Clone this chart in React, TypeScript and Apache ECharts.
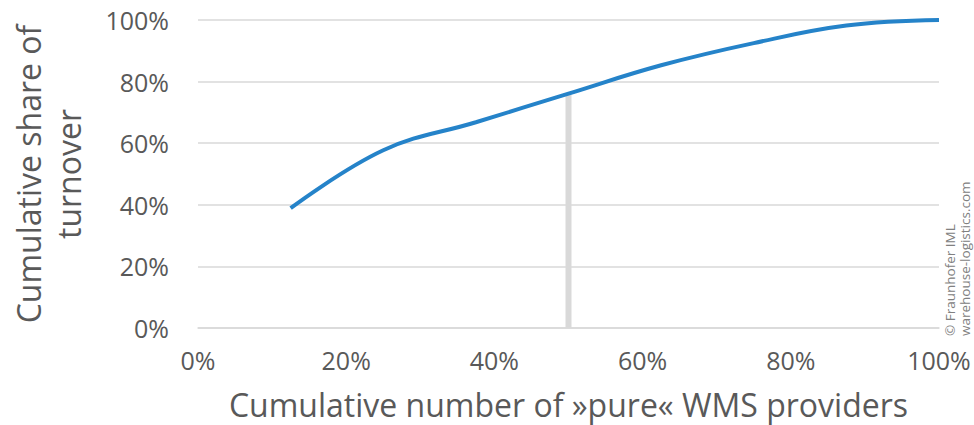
import React, { useEffect, useRef } from "react";
import * as echarts from "echarts";

const providerShare = [12.5, 25, 37.5, 50, 62.5, 75, 87.5, 100];
const turnoverShare = [38.9, 57.7, 66.8, 76.1, 85.3, 92.5, 98.2, 100];
const markerX = 50;
const markerTop = 76.1;
const xTitle = "Cumulative number of »pure« WMS providers";
const yTitle = "Cumulative share of\nturnover";
const credits = ["© Fraunhofer IML", "warehouse-logistics.com"];

const FONT = "'Open Sans', 'Noto Sans', sans-serif";
const TXT = "#595959";

export default function App() {
  const ref = useRef<HTMLDivElement>(null);
  useEffect(() => {
    if (!ref.current) return;
    const chart = echarts.init(ref.current, undefined, { renderer: "svg" });
    chart.setOption({
      animation: false,
      backgroundColor: "#ffffff",
      grid: { left: 186, right: 35, top: 20, bottom: 94 },
      xAxis: {
        type: "value",
        min: 0,
        max: 100,
        interval: 20,
        name: xTitle,
        nameLocation: "middle",
        nameGap: 60,
        nameTextStyle: { color: TXT, fontSize: 32, fontFamily: FONT },
        axisLine: { show: true, lineStyle: { color: "#d9d9d9", width: 1.5 } },
        axisTick: { show: false },
        splitLine: { show: false },
        axisLabel: {
          formatter: "{value}%",
          color: TXT,
          fontSize: 25,
          fontFamily: FONT,
          margin: 19,
        },
      },
      yAxis: {
        type: "value",
        min: 0,
        max: 100,
        interval: 20,
        name: yTitle,
        nameLocation: "middle",
        nameRotate: 90,
        nameGap: 110,
        nameTextStyle: { color: TXT, fontSize: 32, fontFamily: FONT, lineHeight: 40 },
        axisLine: { show: false },
        axisTick: { show: false },
        splitLine: { show: true, lineStyle: { color: "#d9d9d9", width: 1.5 } },
        axisLabel: {
          formatter: "{value}%",
          color: TXT,
          fontSize: 25,
          fontFamily: FONT,
          margin: 29,
        },
      },
      series: [
        {
          type: "line",
          data: [
            [markerX, 0],
            [markerX, markerTop],
          ],
          symbol: "none",
          lineStyle: { color: "#d9d9d9", width: 6 },
          z: 1,
        },
        {
          type: "line",
          data: providerShare.map((x, i) => [x, turnoverShare[i]]),
          smooth: 0.4,
          symbol: "none",
          lineStyle: { color: "#2583c9", width: 4 },
          z: 3,
        },
      ],
      graphic: [
        {
          type: "text",
          x: 950,
          y: 336,
          rotation: Math.PI / 2,
          style: {
            text: credits[0],
            fill: "#808080",
            font: `13.5px ${FONT}`,
            align: "left",
            verticalAlign: "middle",
          },
        },
        {
          type: "text",
          x: 965,
          y: 336,
          rotation: Math.PI / 2,
          style: {
            text: credits[1],
            fill: "#808080",
            font: `13.5px ${FONT}`,
            align: "left",
            verticalAlign: "middle",
          },
        },
      ],
    });
    return () => chart.dispose();
  }, []);
  return <div ref={ref} style={{ width: 974, height: 425, position: "absolute", left: 0, top: 0 }} />;
}
